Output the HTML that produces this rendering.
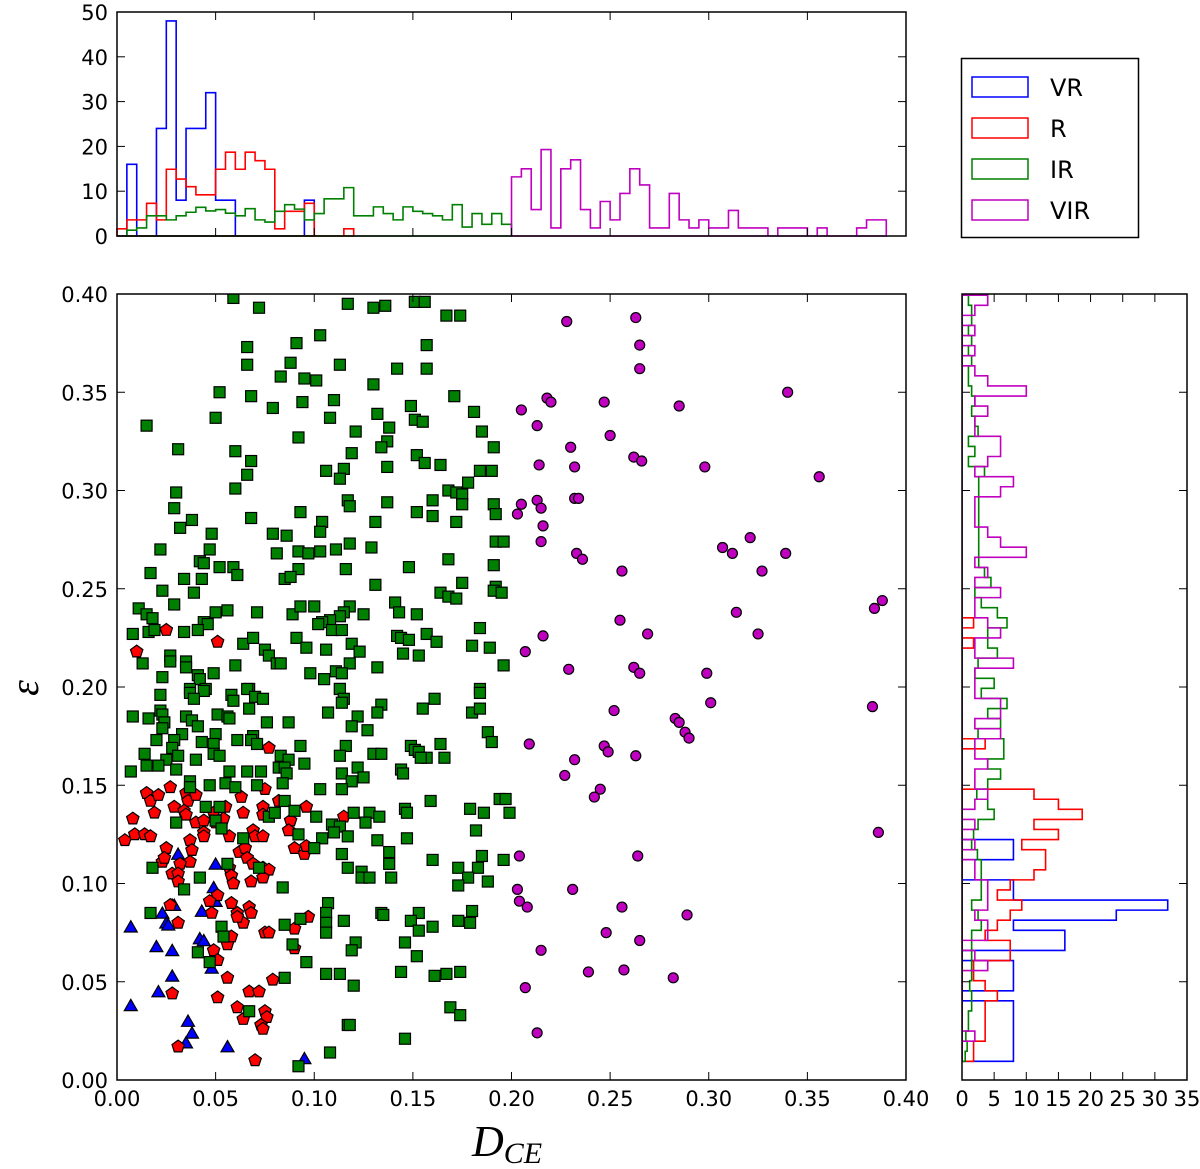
<!DOCTYPE html>
<html><head><meta charset="utf-8"><style>
html,body{margin:0;padding:0;background:#fff;}
svg{display:block;}
text{font-family:"DejaVu Sans","Liberation Sans",sans-serif;}
</style></head><body>
<svg id="fig" width="1200" height="1169" viewBox="0 0 1200 1169" xmlns="http://www.w3.org/2000/svg">
<g id="hist-top"></g>
<g id="hist-right"></g>
<g id="main"></g>
<g id="legend">
  <rect x="961.5" y="58.5" width="177" height="179" fill="#fff" stroke="#000" stroke-width="1.5"/>
  <rect x="972" y="77" width="56" height="20" fill="none" stroke="#0000ff" stroke-width="1.5"/>
  <text x="1050" y="96" font-size="24">VR</text>
  <rect x="972" y="118" width="56" height="20" fill="none" stroke="#ff0000" stroke-width="1.5"/>
  <text x="1050" y="137" font-size="24">R</text>
  <rect x="972" y="159" width="56" height="20" fill="none" stroke="#008000" stroke-width="1.5"/>
  <text x="1050" y="178" font-size="24">IR</text>
  <rect x="972" y="200" width="56" height="20" fill="none" stroke="#bf00bf" stroke-width="1.5"/>
  <text x="1050" y="219" font-size="24">VIR</text>
</g>
<text x="472" y="1156" font-family="Liberation Serif,serif" font-style="italic" font-size="44" style="font-family:'Liberation Serif',serif">D<tspan font-size="30" dy="7">CE</tspan></text>
<text transform="translate(38,688) rotate(-90)" text-anchor="middle" font-size="40" style="font-family:'Liberation Serif',serif" font-style="italic">ε</text>
</svg>
<script>
// ---------- data ----------
const topBinWidth = 0.005;
const topVR = [0,16,0,0,24,48,8,24,24,32,8,8,0,0,0,0,0,0,0,8];
const topR = [1.6,3.6,3.6,7.3,3.6,14.9,12.7,11,9.2,9.2,14.9,18.7,14.9,18.7,16.8,14.9,1.6,5.5,5.5,7.3,0,0,0,1.6];
const topIR = [0,1.3,1.8,4.5,4.5,3.6,4.5,5.3,6.4,5.6,5.9,5.1,4.5,6.1,3.6,3.1,5.5,7,6,3.6,5,8.3,8.3,10.8,4.5,4.5,6.5,5,3.6,6.5,5.5,5,4.5,3.6,7,2,5,2.6,5,2.6];
const topVIRStart = 40;
const topVIR = [13.2,15,5.9,19.3,1.8,15,17,5.9,1.8,7.7,3.6,9.5,15,11.4,1.8,1.8,9.5,3.6,1.8,3.6,1.8,1.8,5.7,1.8,1.8,1.8,0,1.8,1.8,1.8,0,1.8,0,0,0,1.8,3.6,3.6];
const topTicks = [0,10,20,30,40,50];

const rightStart = 0.0095;
const rightBinWidth = 0.00513;
const rightVR = [8,8,8,8,8,8,0,8,8,8,0,16,16,8,24,32,8,8,0,0,8,8];
const rightR = [1.8,1.8,3.6,3.6,3.6,3.6,5.5,3.6,1.8,1.8,7.5,7.5,3.6,5.5,7.5,9.3,5.5,7.5,11.2,13,13,9.3,15,11.2,18.7,15,11.2,0,0,0,0,3.6,0,0,0,0,0,0,0,0,0,1.8,0,1.8];
const rightIR = [0.5,0.8,0.6,1,1,1.5,1.5,1.2,1.5,1.5,1.5,1.5,1.5,3,2.5,1.5,3,3,3,3,2.4,1.5,1.8,2.5,5,4,2.3,4,6,4,6.5,6.5,2.5,6,4,7,3,5,2,2.5,5.5,4,4,7,5.5,3,2,4.5,3.5,2.6,2.6,2.6,2.6,2.6,2.6,2.6,2.6,2.6,3.5,1,2,1,2.5,2,1.5,2,1.5,1,1,1.5,1,1.5,1,1.5,1.5,1,1.5,2];
const rightVIR = [0,0,2,0,0,0,0,0,0,4,2,0,4,4,2,4,4,4,2,2,0,2,0,2,0,2,4,2,2,4,2,2,6,2,6,6,2,2,2,8,2,2,6,4,2,2,6,2,4,2,10,6,4,2,2,2,6,8,2,4,6,6,2,2,4,2,10,4,2,0,2,0,2,0,2,4,0,0];
const rightTicks = [0,5,10,15,20,25,30,35];

const mainTicksX = [0,0.05,0.10,0.15,0.20,0.25,0.30,0.35,0.40];
const mainTicksY = [0,0.05,0.10,0.15,0.20,0.25,0.30,0.35,0.40];

const vrX = [.031,.050,.049,.028,.023,.043,.050,.025,.026,.007,.042,.044,.020,.028,.048,.028,.021,.007,.036,.038,.035,.056,.095,.029];
const vrY = [.115,.110,.098,.089,.085,.086,.091,.080,.079,.078,.072,.071,.068,.066,.057,.053,.045,.038,.030,.024,.019,.017,.011,.089];

const rX = [.077,.015,.017,.021,.027,.035,.036,.040,.029,.034,.035,.019,.008,.040,.044,.044,.044,.037,.049,.055,.050,.054,.063,.064,.075,.074,.074,.004,.009,.014,.017,.057,.069,.070,.074,.082,.088,.087,.096,.115,.025,.038,.037,.032,.023,.024,.062,.065,.066,.069,.074,.077,.090,.095,.096,.057,.058,.059,.068,.074,.028,.031,.031,.051,.047,.048,.058,.061,.064,.061,.067,.068,.027,.031,.097,.090,.075,.077,.056,.058,.049,.051,.090,.056,.079,.067,.072,.051,.028,.061,.064,.075,.076,.073,.074,.031,.070,.025,.010,.051];
const rY = [.169,.146,.142,.145,.149,.146,.142,.145,.139,.137,.135,.136,.133,.131,.132,.126,.124,.122,.136,.139,.131,.133,.144,.136,.148,.139,.135,.122,.125,.125,.124,.124,.127,.124,.124,.142,.132,.127,.139,.134,.118,.117,.111,.110,.111,.113,.116,.118,.113,.110,.108,.107,.118,.115,.119,.108,.104,.100,.101,.103,.105,.105,.101,.094,.091,.085,.090,.085,.080,.083,.088,.085,.089,.080,.083,.077,.075,.075,.069,.073,.066,.061,.067,.052,.051,.045,.045,.042,.044,.037,.031,.035,.032,.028,.026,.017,.010,.229,.218,.223];

const irX = [.059,.072,.117,.130,.136,.151,.156,.167,.174,.103,.091,.066,.157,.066,.088,.113,.142,.157,.083,.095,.101,.130,.052,.068,.171,.094,.110,.079,.149,.181,.050,.108,.132,.151,.155,.015,.138,.121,.185,.092,.137,.134,.191,.031,.060,.119,.152,.156,.164,.068,.066,.106,.115,.113,.137,.184,.190,.178,.060,.030,.168,.172,.175,.175,.117,.118,.137,.160,.191,.192,.029,.093,.152,.160,.038,.068,.104,.103,.131,.172,.032,.048,.079,.086,.118,.192,.196,.022,.047,.129,.081,.092,.097,.103,.111,.168,.042,.044,.017,.052,.059,.061,.092,.116,.148,.191,.034,.043,.085,.088,.131,.175,.023,.039,.192,.191,.195,.164,.168,.172,.029,.141,.143,.011,.015,.018,.050,.056,.071,.089,.093,.100,.118,.115,.113,.108,.104,.102,.125,.152,.044,.046,.008,.016,.019,.034,.041,.109,.114,.184,.064,.069,.091,.119,.123,.142,.144,.148,.157,.162,.180,.189,.075,.077,.081,.083,.096,.106,.027,.027,.013,.035,.035,.145,.153,.060,.118,.132,.196,.023,.041,.042,.049,.098,.105,.111,.114,.037,.045,.067,.113,.184,
.022,.037,.044,.039,.058,.059,.066,.070,.074,.113,.115,.114,.184,.161,.134,.132,.155,.180,.184,.008,.016,.022,.023,.024,.023,.035,.038,.041,.051,.056,.057,.067,.076,.087,.107,.122,.119,.127,.188,.190,.033,.029,.020,.043,.050,.049,.049,.052,.061,.069,.068,.071,.093,.116,.149,.151,.153,.157,.154,.164,.166,.014,.028,.031,.025,.021,.015,.007,.040,.030,.083,.087,.082,.085,.086,.084,.095,.113,.130,.134,.122,.114,.125,.119,.114,.144,.145,.057,.066,.073,.037,.037,.047,.055,.060,.071,.103,.159,.194,.197,.085,.045,.052,.050,.053,.030,.077,.080,.090,.101,.109,.113,.110,.117,.104,.120,.128,.133,.126,.146,.147,.179,.186,.199,.182,.092,.064,.132,.147,.100,.114,.117,.124,.124,.128,.138,.138,.139,.160,.185,.196,.173,.183,.178,.188,.173,.018,.056,.072,.042,.034,.084,.107,.106,.106,.106,.115,.134,.135,.153,.149,.153,.160,.173,.179,.180,.017,.093,.085,.053,.054,.041,.047,.089,.121,.119,.146,.152,.096,.106,.113,.120,.144,.161,.167,.174,.085,.169,.174,.067,.117,.118,.146,.108,.092];
const irY = [.398,.393,.395,.393,.394,.396,.396,.389,.389,.379,.375,.373,.374,.364,.365,.364,.362,.362,.358,.357,.356,.354,.350,.348,.348,.345,.346,.342,.343,.340,.337,.337,.339,.336,.335,.333,.332,.330,.330,.327,.325,.322,.322,.321,.320,.319,.318,.314,.313,.315,.308,.310,.311,.306,.312,.310,.310,.304,.301,.299,.300,.299,.298,.293,.295,.292,.294,.295,.293,.288,.291,.289,.289,.287,.285,.286,.284,.279,.284,.284,.281,.278,.278,.277,.273,.274,.274,.270,.270,.271,.268,.269,.268,.269,.270,.265,.264,.263,.258,.261,.261,.257,.260,.260,.261,.262,.255,.255,.255,.256,.252,.253,.249,.248,.251,.249,.248,.248,.246,.245,.242,.243,.238,.240,.237,.235,.238,.239,.238,.237,.241,.241,.241,.238,.236,.234,.233,.232,.237,.237,.233,.232,.227,.228,.229,.228,.229,.229,.229,.230,.222,.225,.225,.222,.218,.226,.225,.224,.227,.223,.221,.220,.219,.216,.212,.212,.220,.219,.216,.213,.212,.213,.210,.217,.216,.211,.212,.210,.211,.205,.206,.204,.207,.207,.204,.208,.207,.199,.199,.199,.199,.199,
.196,.197,.198,.194,.196,.193,.199,.195,.194,.199,.194,.192,.197,.194,.191,.187,.189,.187,.189,.185,.184,.188,.186,.182,.179,.185,.183,.180,.186,.185,.184,.189,.182,.182,.187,.185,.180,.178,.177,.172,.176,.173,.173,.172,.176,.171,.166,.165,.173,.175,.173,.171,.170,.170,.170,.168,.167,.164,.164,.171,.164,.166,.169,.165,.163,.160,.160,.157,.163,.158,.165,.163,.159,.159,.156,.151,.161,.165,.166,.166,.159,.156,.154,.152,.148,.158,.156,.157,.157,.157,.152,.149,.150,.151,.149,.150,.148,.142,.143,.143,.142,.139,.139,.132,.128,.131,.134,.136,.137,.134,.130,.129,.126,.124,.123,.136,.136,.134,.131,.138,.136,.138,.136,.136,.127,.125,.123,.122,.123,.118,.115,.108,.106,.103,.103,.116,.110,.103,.112,.114,.112,.108,.108,.103,.101,.099,.108,.110,.108,.103,.097,.098,.090,.085,.080,.075,.081,.085,.084,.085,.081,.076,.078,.081,.080,.086,.085,.082,.079,.078,.073,.065,.060,.069,.070,.066,.070,.063,.060,.054,.054,.048,.055,.053,.054,.055,.052,.037,.033,.035,.028,.028,.021,.014,.007];

const virX = [.228,.263,.265,.265,.340,.247,.285,.218,.220,.205,.213,.250,.230,.262,.266,.298,.356,.214,.232,.205,.213,.215,.232,.234,.203,.216,.215,.233,.236,.307,.321,.312,.339,.256,.327,.384,.388,.314,.255,.216,.269,.325,.207,.262,.265,.229,.299,.301,.383,.252,.283,.285,.288,.290,.209,.247,.249,.263,.232,.227,.245,.242,.386,.204,.264,.203,.231,.204,.208,.256,.289,.248,.265,.215,.239,.257,.282,.207,.213];
const virY = [.386,.388,.374,.362,.350,.345,.343,.347,.345,.341,.333,.328,.322,.317,.315,.312,.307,.313,.312,.293,.295,.291,.296,.296,.288,.282,.274,.268,.265,.271,.276,.268,.268,.259,.259,.240,.244,.238,.234,.226,.227,.227,.218,.210,.207,.209,.207,.192,.190,.188,.184,.182,.177,.174,.171,.170,.167,.165,.163,.155,.148,.144,.126,.114,.114,.097,.097,.091,.088,.088,.084,.075,.071,.066,.055,.056,.052,.047,.024];

// ---------- geometry ----------
const NS = 'http://www.w3.org/2000/svg';
const X0 = 117, X1 = 906;
const MY0 = 1080, MY1 = 294;
const TY0 = 236, TY1 = 12;
const RX0 = 962, RX1 = 1187;
const sx = v => X0 + v / 0.40 * (X1 - X0);
const sy = v => MY0 - v / 0.40 * (MY0 - MY1);
const ty = v => TY0 - v / 50 * (TY0 - TY1);
const rx = v => RX0 + v / 35 * (RX1 - RX0);

function mk(tag, attrs, parent) {
  const e = document.createElementNS(NS, tag);
  for (const k in attrs) e.setAttribute(k, attrs[k]);
  parent.appendChild(e);
  return e;
}

function frame(g, x0, y0, x1, y1, name) {
  const r = mk('rect', {x: x0, y: y1, width: x1 - x0, height: y0 - y1, fill: 'none', stroke: '#000', 'stroke-width': 1.5}, g);
  
  
}
function tickLine(g, x1, y1, x2, y2) {
  const l = mk('line', {x1, y1, x2, y2, stroke: '#000', 'stroke-width': 1}, g);
  
  
}
function label(g, x, y, txt, anchor, name) {
  const t = mk('text', {x, y, 'font-size': 21, 'text-anchor': anchor}, g);
  t.textContent = txt;
  
  
}

// ---------- top histogram ----------
const gt = document.getElementById('hist-top');
function topHist(arr, start, color, name) {
  let d = 'M' + sx(start * topBinWidth) + ',' + ty(0);
  arr.forEach((v, i) => {
    const xa = sx((start + i) * topBinWidth), xb = sx((start + i + 1) * topBinWidth);
    d += ' L' + xa + ',' + ty(v) + ' L' + xb + ',' + ty(v);
  });
  d += ' L' + sx((start + arr.length) * topBinWidth) + ',' + ty(0) + ' Z';
  const p = mk('path', {d, fill: 'none', stroke: color, 'stroke-width': 1.6}, gt);
  
  
}
topHist(topVR, 0, '#0000ff', 'top-hist-vr');
topHist(topR, 0, '#ff0000', 'top-hist-r');
topHist(topIR, 0, '#008000', 'top-hist-ir');
topHist(topVIR, topVIRStart, '#bf00bf', 'top-hist-vir');
frame(gt, X0, TY0, X1, TY1, 'top-hist-frame');
topTicks.forEach(v => {
  tickLine(gt, X0, ty(v), X0 + 8, ty(v));
  tickLine(gt, X1, ty(v), X1 - 8, ty(v));
  label(gt, 108, ty(v) + 8, String(v), 'end', 'top-y-tick-label');
});
mainTicksX.forEach(v => {
  tickLine(gt, sx(v), TY0, sx(v), TY0 - 8);
  tickLine(gt, sx(v), TY1, sx(v), TY1 + 8);
});

// ---------- right histogram ----------
const gr = document.getElementById('hist-right');
function rightHist(arr, color, name) {
  const yb = i => sy(rightStart + i * rightBinWidth);
  let d = 'M' + rx(0) + ',' + yb(0);
  arr.forEach((v, i) => {
    d += ' L' + rx(v) + ',' + yb(i) + ' L' + rx(v) + ',' + yb(i + 1);
  });
  d += ' L' + rx(0) + ',' + yb(arr.length) + ' Z';
  const p = mk('path', {d, fill: 'none', stroke: color, 'stroke-width': 1.6}, gr);
  
  
}
const clipR = mk('clipPath', {id: 'clipR'}, gr);
mk('rect', {x: RX0, y: MY1, width: RX1 - RX0, height: MY0 - MY1}, clipR);
const grIn = mk('g', {'clip-path': 'url(#clipR)'}, gr);


const origGr = gr;
(function(){
  const save = gr;
  function rh(arr, color, name) {
    const yb = i => sy(rightStart + i * rightBinWidth);
    let d = 'M' + rx(0) + ',' + yb(0);
    arr.forEach((v, i) => { d += ' L' + rx(v) + ',' + yb(i) + ' L' + rx(v) + ',' + yb(i + 1); });
    d += ' L' + rx(0) + ',' + yb(arr.length) + ' Z';
    const p = mk('path', {d, fill: 'none', stroke: color, 'stroke-width': 1.6}, grIn);
    
    
  }
  rh(rightVR, '#0000ff', 'right-hist-vr');
  rh(rightR, '#ff0000', 'right-hist-r');
  rh(rightIR, '#008000', 'right-hist-ir');
  rh(rightVIR, '#bf00bf', 'right-hist-vir');
})();
frame(gr, RX0, MY0, RX1, MY1, 'right-hist-frame');
rightTicks.forEach(v => {
  tickLine(gr, rx(v), MY0, rx(v), MY0 - 8);
  tickLine(gr, rx(v), MY1, rx(v), MY1 + 8);
  label(gr, rx(v), 1106, String(v), 'middle', 'right-x-tick-label');
});
mainTicksY.forEach(v => {
  tickLine(gr, RX0, sy(v), RX0 + 8, sy(v));
  tickLine(gr, RX1, sy(v), RX1 - 8, sy(v));
});

// ---------- main scatter ----------
const gm = document.getElementById('main');
const clipM = mk('clipPath', {id: 'clipM'}, gm);
mk('rect', {x: X0, y: MY1, width: X1 - X0, height: MY0 - MY1}, clipM);
const pts = mk('g', {'clip-path': 'url(#clipM)'}, gm);



function poly(cx, cy, r, n, rot) {
  let s = '';
  for (let k = 0; k < n; k++) {
    const a = rot + k * 2 * Math.PI / n;
    s += (cx + r * Math.cos(a)).toFixed(1) + ',' + (cy + r * Math.sin(a)).toFixed(1) + ' ';
  }
  return s;
}
vrX.forEach((v, i) => {
  const p = mk('polygon', {points: poly(sx(v), sy(vrY[i]) + 1.5, 7.5, 3, -Math.PI / 2), fill: '#0000ff', stroke: '#000', 'stroke-width': 1.2}, pts);
  
  
});
rX.forEach((v, i) => {
  const p = mk('polygon', {points: poly(sx(v), sy(rY[i]), 6.5, 5, -Math.PI / 2), fill: '#ff0000', stroke: '#000', 'stroke-width': 1.2}, pts);
  
  
});
irX.forEach((v, i) => {
  const p = mk('rect', {x: sx(v) - 5.5, y: sy(irY[i]) - 5.5, width: 11, height: 11, fill: '#008000', stroke: '#000', 'stroke-width': 1.2}, pts);
  
  
});
virX.forEach((v, i) => {
  const p = mk('circle', {cx: sx(v), cy: sy(virY[i]), r: 5, fill: '#bf00bf', stroke: '#000', 'stroke-width': 1.2}, pts);
  
  
});
frame(gm, X0, MY0, X1, MY1, 'scatter-frame');
mainTicksX.forEach(v => {
  tickLine(gm, sx(v), MY0, sx(v), MY0 - 8);
  tickLine(gm, sx(v), MY1, sx(v), MY1 + 8);
  label(gm, sx(v), 1106, v.toFixed(2), 'middle', 'x-tick-label');
});
mainTicksY.forEach(v => {
  tickLine(gm, X0, sy(v), X0 + 8, sy(v));
  tickLine(gm, X1, sy(v), X1 - 8, sy(v));
  label(gm, 108, sy(v) + 8, v.toFixed(2), 'end', 'y-tick-label');
});
</script>
</body></html>
